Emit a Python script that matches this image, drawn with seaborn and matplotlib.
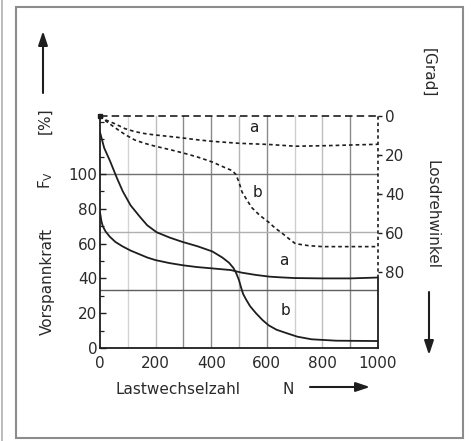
import numpy as np
import matplotlib
matplotlib.use("Agg")
import matplotlib.pyplot as plt
from matplotlib.patches import Rectangle, FancyArrowPatch
import seaborn as sns

sns.set_style("white")
plt.rcParams["font.family"] = ["DejaVu Sans"]

# Vorspannkraft F_V [%] (left axis), solid lines
n_force_a = [0, 5, 10, 20, 35, 55, 80, 110, 140, 170, 200, 250, 300, 350, 400, 470,
             510, 560, 610, 650, 700, 800, 900, 1000]
f_force_a = [78, 73, 70, 67, 64, 61, 58.5, 56, 54, 52, 50.5, 48.8, 47.5, 46.5, 45.8, 44.8,
             43.3, 42, 41, 40.6, 40.2, 40, 40, 40.5]
n_force_b = [0, 15, 36, 60, 82, 110, 143, 170, 204, 250, 296, 350, 404, 440, 464, 480,
             490, 500, 507, 515, 525, 540, 561, 585, 607, 635, 668, 710, 761, 850, 1000]
f_force_b = [124, 115, 107.5, 98, 90, 82, 75.5, 70.5, 66.5, 63.5, 61, 58.5, 55.5, 52, 49, 46,
             43, 39, 35, 31, 28, 24, 20, 16, 13, 10.5, 8.7, 6.5, 5, 4.2, 4]

# Losdrehwinkel [Grad] (right axis, inverted), dashed lines
n_angle_a = [0, 20, 54, 90, 125, 160, 196, 250, 300, 350, 404, 500, 607, 703, 820, 1000]
w_angle_a = [0, 2, 4, 6.5, 8, 9, 9.7, 10.5, 11.3, 12.2, 13, 14, 14.6, 15.5, 15.2, 14.5]
n_angle_b = [0, 25, 54, 90, 125, 160, 196, 250, 300, 350, 404, 450, 475, 489, 500, 511,
             528, 546, 575, 607, 630, 654, 680, 703, 750, 800, 1000]
w_angle_b = [0, 3, 6, 9.5, 12.3, 14, 15.4, 17.2, 19, 21, 23.6, 26.5, 28, 30, 34, 39,
             43, 47, 51, 54.5, 57.5, 60, 63, 65.5, 66.5, 67, 67]

x_ticks = [0, 200, 400, 600, 800, 1000]
y_ticks = [0, 20, 40, 60, 80, 100]
w_ticks = [0, 20, 40, 60, 80]

F_TOP = 400 / 3  # top of force axis
W_BOT = 119      # bottom of angle axis

fig = plt.figure(figsize=(4.71, 4.41), dpi=100)
ax = fig.add_axes([100 / 471, 1 - 348 / 441, 278 / 471, 232 / 441])
ax2 = ax.twinx()

ink = "#1e1e1e"
txt = "#2a2a2a"
fs = 11

# grid, with the uneven grey of the print
v_grid = {100: "#d4d4d4", 200: "#bdbdbd", 300: "#8a8a8a", 400: "#8a8a8a", 500: "#b5b5b5",
          600: "#8a8a8a", 700: "#cfcfcf", 800: "#bdbdbd", 900: "#8a8a8a"}
for xv, c in v_grid.items():
    ax.axvline(xv, color=c, lw=1.0, zorder=0)
for yv, c in [(100, "#6e6e6e"), (200 / 3, "#b0b0b0"), (100 / 3, "#5e5e5e")]:
    ax.axhline(yv, color=c, lw=1.0, zorder=0)

sns.lineplot(x=n_force_a, y=f_force_a, ax=ax, color=ink, lw=1.3, sort=False, estimator=None)
sns.lineplot(x=n_force_b, y=f_force_b, ax=ax, color=ink, lw=1.3, sort=False, estimator=None)
sns.lineplot(x=n_angle_a, y=w_angle_a, ax=ax2, color=ink, lw=1.2, ls=(0, (2.2, 1.8)),
             sort=False, estimator=None)
sns.lineplot(x=n_angle_b, y=w_angle_b, ax=ax2, color=ink, lw=1.2, ls=(0, (2.2, 1.8)),
             sort=False, estimator=None)

ax.set_xlim(0, 1000)
ax.set_ylim(0, F_TOP)
ax2.set_ylim(W_BOT, 0)

# frame: top and upper right dashed, rest solid
for s in ["top", "right"]:
    ax.spines[s].set_visible(False)
    ax2.spines[s].set_visible(False)
ax2.spines["left"].set_visible(False)
ax2.spines["bottom"].set_visible(False)
for s in ["left", "bottom"]:
    ax.spines[s].set_color(ink)
    ax.spines[s].set_linewidth(1.3)
ax.plot([0, 1000], [F_TOP, F_TOP], color=ink, lw=1.2, ls=(0, (4.5, 2.5)), clip_on=False)
ax.plot([1000, 1000], [40, F_TOP], color=ink, lw=1.2, ls=(0, (2, 1.8)), clip_on=False)
ax.plot([1000, 1000], [0, 40], color=ink, lw=1.3, clip_on=False)
ax.plot([0], [F_TOP], marker="s", ms=3, color=ink, clip_on=False)

ax.set_xticks(x_ticks)
ax.set_xticks(np.arange(0, 1001, 100), minor=True)
ax.set_yticks(y_ticks)
ax.set_yticks(np.arange(0, 131, 10), minor=True)
ax.tick_params(axis="both", which="major", direction="in", length=4, width=1,
               color=ink, labelsize=fs, labelcolor=txt)
ax.tick_params(axis="x", which="major", pad=6)
ax.tick_params(axis="y", which="major", pad=2)
ax.tick_params(axis="both", which="minor", direction="in", length=3, width=0.9, color=ink)
ax2.set_yticks(w_ticks)
ax2.tick_params(axis="y", direction="out", length=3, width=1, color=ink, pad=2,
                labelsize=fs, labelcolor=txt)
ax.set_xlabel("")
ax.set_ylabel("")
ax2.set_ylabel("")

# curve labels
ax.text(660, 46, "a", fontsize=fs, color=ink, ha="center", va="bottom")
ax.text(668, 17, "b", fontsize=fs, color=ink, ha="center", va="bottom")
ax2.text(553, 9.7, "a", fontsize=fs, color=ink, ha="center", va="bottom")
ax2.text(565, 39, "b", fontsize=fs, color=ink, ha="center", va="center")

# axis titles with arrows
fig.text(47 / 471, 1 - 281 / 441, "Vorspannkraft", rotation=90, fontsize=fs,
         ha="center", va="center", color=txt)
fig.text(46 / 471, 1 - 180 / 441, r"F$_{\mathrm{V}}$", rotation=90, fontsize=fs,
         ha="center", va="center", color=txt)
fig.text(45 / 471, 1 - 121 / 441, "[%]", rotation=90, fontsize=fs,
         ha="center", va="center", color=txt)
fig.text(428 / 471, 1 - 73 / 441, "[Grad]", rotation=270, fontsize=fs,
         ha="center", va="center", color=txt)
fig.text(432 / 471, 1 - 215 / 441, "Losdrehwinkel", rotation=270, fontsize=fs,
         ha="center", va="center", color=txt)
fig.text(178 / 471, 1 - 390 / 441, "Lastwechselzahl", fontsize=fs,
         ha="center", va="center", color=txt)
fig.text(288 / 471, 1 - 390 / 441, "N", fontsize=fs,
         ha="center", va="center", color=txt)

arrow = dict(arrowstyle="-|>,head_length=0.6,head_width=0.2", color=ink, lw=1.5,
             mutation_scale=14, shrinkA=0, shrinkB=0, transform=fig.transFigure)
fig.add_artist(FancyArrowPatch((43 / 471, 1 - 93 / 441), (43 / 471, 1 - 31 / 441), **arrow))
fig.add_artist(FancyArrowPatch((429 / 471, 1 - 292 / 441), (429 / 471, 1 - 355 / 441), **arrow))
fig.add_artist(FancyArrowPatch((310 / 471, 1 - 387 / 441), (370 / 471, 1 - 387 / 441), **arrow))

# outer frame of the figure
fig.add_artist(Rectangle((16 / 471, 1 - 438 / 441), 447 / 471, 431 / 441,
                         transform=fig.transFigure, fill=False, ec="#8c8c8c", lw=1.5))
fig.add_artist(plt.Line2D([1.5 / 471, 1.5 / 471], [0, 1], transform=fig.transFigure,
                          color="#b0b0b0", lw=1.2))

fig.savefig("out.png", dpi=100)
